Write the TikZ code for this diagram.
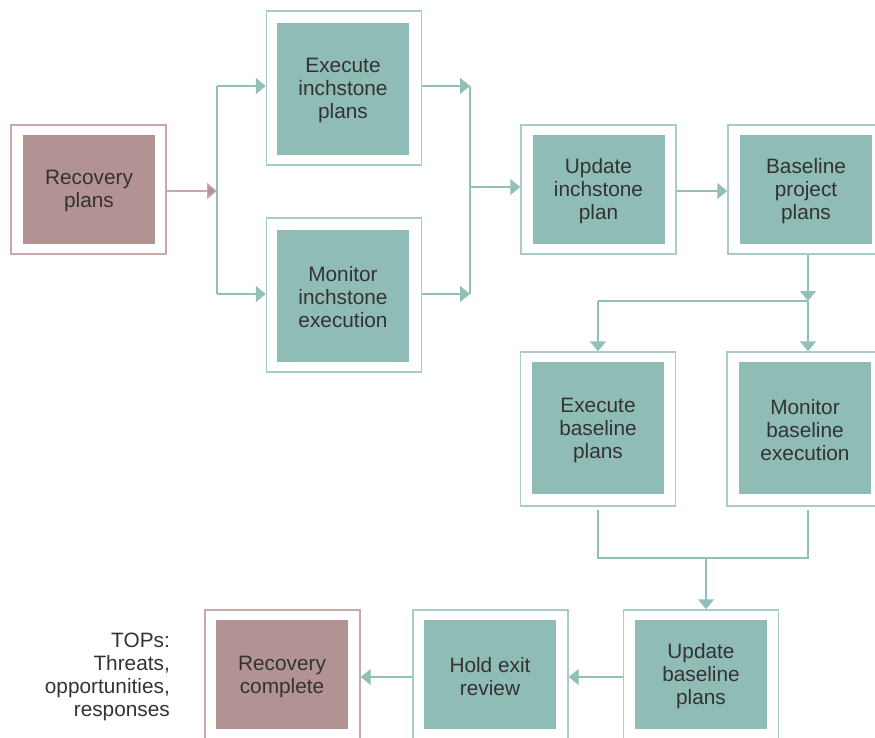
\documentclass[tikz,border=0pt]{standalone}
\usepackage{fontspec}
\setmainfont{Liberation Sans}
\usetikzlibrary{arrows.meta}
\definecolor{tealfill}{HTML}{8FBCB5}
\definecolor{tealline}{HTML}{A6CDC7}
\definecolor{tealarrow}{HTML}{92C0B9}
\definecolor{pinkfill}{HTML}{B39293}
\definecolor{pinkline}{HTML}{C8A8AA}
\definecolor{txt}{HTML}{333333}
\tikzset{
  frame/.style={draw=#1, line width=1.4pt, fill=white, minimum width=155pt, inner sep=0pt},
  smallframe/.style={frame=#1, minimum height=129pt},
  bigframe/.style={frame=#1, minimum height=154pt},
  core/.style={fill=#1, draw=none, minimum width=132pt, inner sep=0pt},
  smallcore/.style={core=#1, minimum height=109pt},
  bigcore/.style={core=#1, minimum height=132pt},
  txtlab/.style={align=center, text=txt, inner sep=0pt, yshift=-2pt,
    font=\fontsize{20.8}{23}\selectfont},
  conn/.style={draw=tealarrow, line width=1.4pt},
  arr/.style={conn, -{Triangle[length=10pt,width=16pt]}},
  parr/.style={draw=pinkline, line width=1.4pt, -{Triangle[length=10pt,width=16pt,fill=pinkfill]}},
}
\begin{document}
\begin{tikzpicture}[x=1pt,y=-1pt]
\useasboundingbox (0,0) rectangle (875,738);
\clip (0,0) rectangle (875,738);
% Recovery plans
\node[smallframe=pinkline] (rpO) at (88.5,189.5) {};
\node[smallcore=pinkfill, label={[txtlab]center:{Recovery\\plans}}] (rp) at (89,189.5) {};
% Execute inchstone plans
\node[bigframe=tealline] (eiO) at (344,88) {};
\node[bigcore=tealfill, label={[txtlab]center:{Execute\\inchstone\\plans}}] (ei) at (343,89) {};
% Monitor inchstone execution
\node[bigframe=tealline] (miO) at (344,295) {};
\node[bigcore=tealfill, label={[txtlab]center:{Monitor\\inchstone\\execution}}] (mi) at (343,295.5) {};
% Update inchstone plan
\node[smallframe=tealline] (uiO) at (598.5,189.5) {};
\node[smallcore=tealfill, label={[txtlab]center:{Update\\inchstone\\plan}}] (ui) at (598.5,189.5) {};
% Baseline project plans
\node[smallframe=tealline] (bpO) at (805.5,189.5) {};
\node[smallcore=tealfill, label={[txtlab]center:{Baseline\\project\\plans}}] (bp) at (806,189.5) {};
% Execute baseline plans
\node[bigframe=tealline] (ebO) at (598,429) {};
\node[bigcore=tealfill, label={[txtlab]center:{Execute\\baseline\\plans}}] (eb) at (598,428) {};
% Monitor baseline execution
\node[bigframe=tealline] (mbO) at (804.5,429) {};
\node[bigcore=tealfill, label={[txtlab]center:{Monitor\\baseline\\execution}}] (mb) at (805,428) {};
% Update baseline plans
\node[smallframe=tealline] (ubO) at (701,674.5) {};
\node[smallcore=tealfill, label={[txtlab]center:{Update\\baseline\\plans}}] (ub) at (701,674.5) {};
% Hold exit review
\node[smallframe=tealline] (heO) at (490.5,674.5) {};
\node[smallcore=tealfill, label={[txtlab]center:{Hold exit\\review}}] (he) at (490,674.5) {};
% Recovery complete
\node[smallframe=pinkline] (rcO) at (282.5,674.5) {};
\node[smallcore=pinkfill, label={[txtlab]center:{Recovery\\complete}}] (rc) at (282,674.5) {};
% TOPs label
\node[txtlab, align=right, anchor=east, yshift=0pt] (tops) at (170,675) {TOPs:\\Threats,\\opportunities,\\responses};

% coordinates
\coordinate (s1t) at (217,86);
\coordinate (s1m) at (217,191);
\coordinate (s1b) at (217,294);
\coordinate (j1t) at (470,86);
\coordinate (j1m) at (470,187);
\coordinate (j1b) at (470,294);
\coordinate (s2) at (808,301);
\coordinate (s2l) at (598,301);
\coordinate (j2l) at (598,558);
\coordinate (j2r) at (808,558);
\coordinate (j2m) at (706,558);

% connectors
\draw[parr] (rpO.east |- s1m) -- (s1m);
\draw[conn] (s1t) -- (s1b);
\draw[arr] (s1t) -- (eiO.west |- s1t);
\draw[arr] (s1b) -- (miO.west |- s1b);
\draw[arr] (eiO.east |- j1t) -- (j1t);
\draw[arr] (miO.east |- j1b) -- (j1b);
\draw[conn] (j1t) -- (j1b);
\draw[arr] (j1m) -- (uiO.west |- j1m);
\draw[arr] (uiO.east |- 0,191) -- (bpO.west |- 0,191);
\draw[arr] (bpO.south -| s2) -- (s2);
\draw[conn] (s2l) -- (s2);
\draw[arr] (s2l) -- (ebO.north -| s2l);
\draw[arr] (s2) -- (mbO.north -| s2);
\draw[conn] (598,510) -- (j2l) -- (j2r) -- (808,510);
\draw[arr] (j2m) -- (ubO.north -| j2m);
\draw[arr] (ubO.west |- 0,677) -- (heO.east |- 0,677);
\draw[arr] (heO.west |- 0,677) -- (rcO.east |- 0,677);
\end{tikzpicture}
\end{document}
